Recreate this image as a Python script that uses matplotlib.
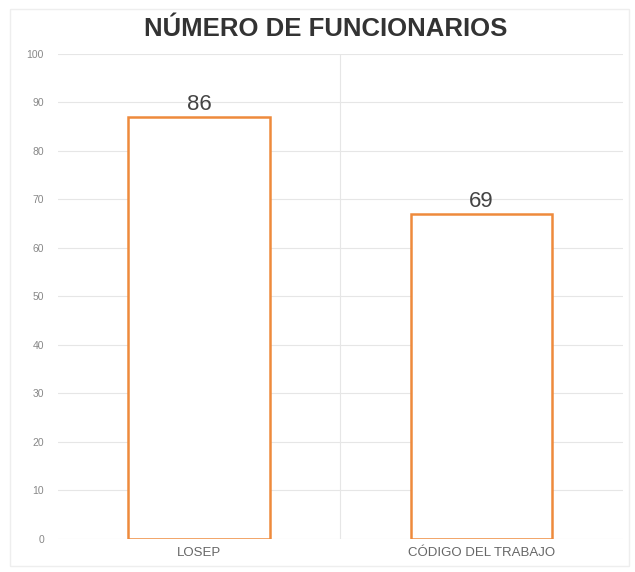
import matplotlib
matplotlib.use("Agg")
import matplotlib.pyplot as plt
from matplotlib.patches import Rectangle

# data
categories = ["LOSEP", "CÓDIGO DEL TRABAJO"]
bar_heights = [87, 67]          # where the bars actually end on the axis
value_labels = ["86", "69"]     # numbers printed above the bars
yticks = list(range(0, 101, 10))

plt.rcParams['font.family'] = ['Liberation Sans', 'DejaVu Sans']

fig = plt.figure(figsize=(6.35, 5.72), dpi=100)
ax = fig.add_axes([0.091, 0.058, 0.890, 0.848])

x = range(len(categories))
bars = ax.bar(x, bar_heights, width=0.5, color="white",
              edgecolor="#EE8A3C", linewidth=1.8, zorder=3)

for b, lab in zip(bars, value_labels):
    ax.text(b.get_x() + b.get_width() / 2, b.get_height() + 0.3, lab,
            ha="center", va="bottom", fontsize=16, color="#444444", zorder=4)

ax.set_xlim(-0.5, 1.5)
ax.set_ylim(0, 100)
ax.set_yticks(yticks)
ax.set_yticklabels([str(t) for t in yticks], fontsize=7.5, color="#888888")
ax.set_xticks(list(x))
ax.set_xticklabels(categories, fontsize=9.5, color="#666666")
ax.tick_params(length=0, pad=6)
ax.tick_params(axis="y", pad=10)

# horizontal grid plus the single divider between categories
ax.grid(axis="y", color="#e6e6e6", linewidth=0.8, zorder=0)
ax.axvline(0.5, color="#e6e6e6", linewidth=0.8, zorder=0)
for s in ax.spines.values():
    s.set_visible(False)

fig.text(0.513, 0.950, "NÚMERO DE FUNCIONARIOS", ha="center", va="center",
         fontsize=18.5, fontweight="bold", color="#333333")

# faint frame around the whole chart
fig.patches.append(Rectangle((0.015, 0.01), 0.975, 0.975, transform=fig.transFigure,
                             fill=False, edgecolor="#eeeeee", linewidth=1))

fig.savefig("out.png", dpi=100)
